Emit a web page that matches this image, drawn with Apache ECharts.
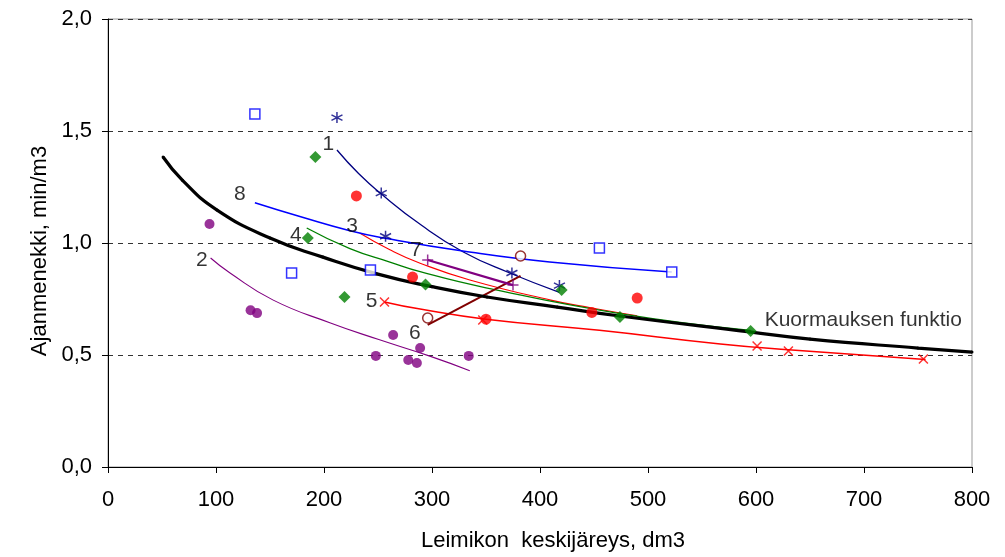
<!DOCTYPE html>
<html>
<head>
<meta charset="utf-8">
<script src="https://cdn.jsdelivr.net/npm/echarts@6/dist/echarts.min.js"></script>
<style>
  html, body { margin: 0; padding: 0; background: #fff; }
  #chart { width: 1005px; height: 557px; }
</style>
</head>
<body>
<div id="chart"></div>
<script>
// measured points per group: [leimikon keskijäreys dm3, ajanmenekki min/m3]
const pts1 = [[212, 1.56], [253, 1.223], [257, 1.03], [374, 0.866], [418, 0.81]]
const pts2 = [[94, 1.085], [132, 0.70], [138, 0.687], [264, 0.589], [248, 0.496], [278, 0.478], [289, 0.531], [286, 0.464], [334, 0.496]]
const pts3 = [[230, 1.21], [282, 0.848], [350, 0.66], [448, 0.69], [490, 0.754]]
const pts4 = [[192, 1.384], [185, 1.022], [219, 0.759], [294, 0.815], [420, 0.79], [474, 0.67], [595, 0.607]]
const pts5 = [[256, 0.737], [347, 0.656], [601, 0.54], [630, 0.518], [755, 0.482]]
const pts6 = [[296, 0.665], [382, 0.942]]
const pts7 = [[296, 0.924], [375, 0.812]]
const pts8 = [[136, 1.576], [170, 0.866], [243, 0.879], [455, 0.978], [522, 0.87]]

// fitted curves
const fit1 = [[212, 1.415], [232, 1.31], [252, 1.223], [290, 1.08], [329, 0.96], [372, 0.866], [418, 0.78]]
const fit2 = [[95, 0.933], [113, 0.866], [153, 0.745], [206, 0.643], [250, 0.57], [298, 0.495], [335, 0.43]]
const fit3 = [[233, 1.045], [261, 0.97], [289, 0.91], [335, 0.835], [410, 0.745], [448, 0.71], [490, 0.675]]
const fit4 = [[184, 1.067], [224, 0.975], [261, 0.915], [289, 0.872], [350, 0.80], [474, 0.685], [595, 0.61]]
const fit5 = [[256, 0.737], [289, 0.705], [350, 0.66], [455, 0.61], [567, 0.549], [630, 0.523], [757, 0.48]]
const fit6 = [[296, 0.634], [382, 0.853]]
const fit7 = [[296, 0.924], [375, 0.812]]
const fit8 = [[136, 1.18], [180, 1.115], [224, 1.055], [258, 1.02], [330, 0.963], [409, 0.915], [522, 0.87]]
const kuormaus = [[51, 1.384], [69, 1.28], [101, 1.147], [150, 1.022], [199, 0.937], [249, 0.862], [300, 0.805], [351, 0.759], [416, 0.714], [474, 0.674], [594, 0.603], [650, 0.571], [750, 0.531], [800, 0.513]]

// curve labels
const curveLabels = [
  ['1', 204, 1.44], ['2', 87, 0.924], ['3', 226, 1.076], ['4', 174, 1.036],
  ['5', 244, 0.741], ['6', 284, 0.598], ['7', 285, 0.969], ['8', 122, 1.219]
]
const funcLabel = ['Kuormauksen funktio', 608, 0.656]

const chart = echarts.init(document.getElementById('chart'))

const asterisk = 'path://M5,0L5,10M0.7,2.5L9.3,7.5M0.7,7.5L9.3,2.5'
const cross = 'path://M0,0L10,10M0,10L10,0'
const plus = 'path://M5,0L5,10M0,5L10,5'
const font = 'Liberation Sans'

const fitLine = (data, color, width) => ({
  type: 'line', data, smooth: true, showSymbol: false, silent: true,
  lineStyle: { color, width }, z: 2
})
const marks = (data, symbol, size, fill, stroke) => ({
  type: 'scatter', data, symbol, symbolSize: size,
  itemStyle: { color: fill, borderColor: stroke, borderWidth: stroke ? 1.5 : 0 },
  z: 4
})

chart.setOption({
  animation: false,
  grid: { left: 108, right: 33, top: 19, bottom: 90, show: true, borderColor: '#999', borderWidth: 1 },
  xAxis: {
    type: 'value', min: 0, max: 800, interval: 100,
    name: 'Leimikon  keskijäreys, dm3', nameLocation: 'middle', nameGap: 63,
    nameTextStyle: { fontFamily: font, fontSize: 22, color: '#000', padding: [0, 0, 0, 26] },
    axisLine: { lineStyle: { color: '#000', width: 1 } },
    axisTick: { length: 6, lineStyle: { color: '#000' } },
    axisLabel: { fontFamily: font, fontSize: 22, color: '#000', margin: 22 },
    splitLine: { show: false }
  },
  yAxis: {
    type: 'value', min: 0, max: 2, interval: 0.5,
    name: 'Ajanmenekki, min/m3', nameLocation: 'middle', nameGap: 50, nameRotate: 90,
    nameTextStyle: { fontFamily: font, fontSize: 22, color: '#000', padding: [0, 16, 0, 0] },
    axisLine: { show: true, lineStyle: { color: '#000', width: 1 } },
    axisTick: { show: true, length: 6, lineStyle: { color: '#000' } },
    axisLabel: {
      fontFamily: font, fontSize: 22, color: '#000', margin: 16,
      formatter: v => v.toFixed(1).replace('.', ',')
    },
    splitLine: { lineStyle: { color: '#333', type: [5, 5], width: 1 } }
  },
  series: [
    fitLine(fit1, '#000080', 1.3),
    fitLine(fit2, '#800080', 1.1),
    fitLine(fit3, '#ff0000', 1.1),
    fitLine(fit4, '#008000', 1.3),
    fitLine(fit5, '#ff0000', 1.5),
    fitLine(fit6, '#800000', 2),
    fitLine(fit7, '#800080', 2.2),
    fitLine(fit8, '#0000ff', 1.5),
    {
      type: 'line', data: kuormaus, smooth: true, symbol: 'circle', symbolSize: 3,
      showSymbol: true, itemStyle: { color: '#000' },
      lineStyle: { color: '#000', width: 3.2 }, z: 3
    },
    marks(pts1, asterisk, 11, 'none', '#000080'),
    marks(pts2, 'circle', 10, '#800080'),
    marks(pts3, 'circle', 11, '#ff0000'),
    marks(pts4, 'diamond', 12, '#008000'),
    marks(pts5, cross, 9, 'none', '#ff0000'),
    marks(pts6, 'circle', 10, '#fff', '#800000'),
    marks(pts7, plus, 11, 'none', '#800080'),
    marks(pts8, 'rect', 10, '#fff', '#0000ff'),
    {
      type: 'scatter', symbolSize: 0, silent: true, z: 5,
      data: curveLabels.map(l => ({ value: [l[1], l[2]], name: l[0] })),
      label: {
        show: true, position: 'inside', formatter: p => p.name,
        fontFamily: font, fontSize: 21, color: '#000'
      }
    },
    {
      type: 'scatter', symbolSize: 0, silent: true, z: 5,
      data: [{ value: [funcLabel[1], funcLabel[2]], name: funcLabel[0] }],
      label: {
        show: true, position: 'right', distance: 0, formatter: p => p.name,
        fontFamily: font, fontSize: 21, color: '#000'
      }
    }
  ]
})
</script>
</body>
</html>
